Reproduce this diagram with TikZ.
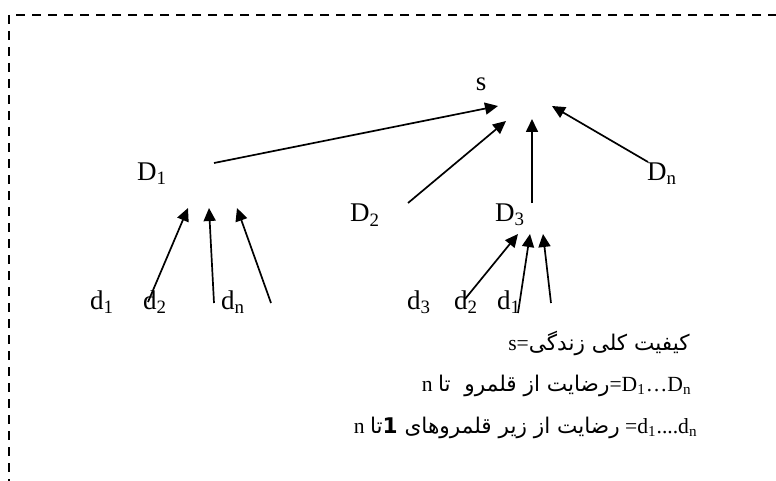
\documentclass[tikz,border=0pt]{standalone}
\usepackage{fontspec}
\setmainfont{Liberation Serif}
\newfontfamily\arabicfont[Script=Arabic]{DejaVu Sans}
\usetikzlibrary{arrows.meta}
\TeXXeTstate=1

\begin{document}
\begin{tikzpicture}[x=0.5pt,y=-0.5pt,
        lbl/.style={inner sep=0pt, font=\fontsize{13.5}{16}\selectfont},
        key/.style={inner sep=0pt, anchor=base east, font=\fontsize{10.8}{13}\selectfont},
        arr/.style={line width=0.85pt, -{Triangle[length=6.5pt,width=6pt]}},
        frame/.style={line width=1pt, dash pattern=on 4.5pt off 3.5pt}]
        \useasboundingbox (0,0) rectangle (776,481);
        \clip (0,0) rectangle (776,481);

        % dashed frame
        \draw[frame] (9,15) rectangle (800,520);

        % top level
        \node[lbl] (s) at (481,84) {s};
        \node[lbl] (D1) at (152,174) {D\textsubscript{1}};
        \node[lbl] (D2) at (365,215) {D\textsubscript{2}};
        \node[lbl] (D3) at (510,215) {D\textsubscript{3}};
        \node[lbl] (Dn) at (662,174) {D\textsubscript{n}};

        % ends of the arrows into s
        \coordinate (s1) at (498,106);
        \coordinate (s2) at (506,121);
        \coordinate (s3) at (532,119);
        \coordinate (s4) at (552,106);
        \coordinate (D1out) at (214,163);
        \coordinate (D2out) at (408,203);
        \coordinate (D3out) at (532,203);
        \coordinate (Dnout) at (648,162);
        \draw[arr] (D1out) -- (s1);
        \draw[arr] (D2out) -- (s2);
        \draw[arr] (D3out) -- (s3);
        \draw[arr] (Dnout) -- (s4);

        % sub domains of D1
        \node[lbl] (d1) at (102,302) {d\textsubscript{1}};
        \node[lbl] (d2) at (155,302) {d\textsubscript{2}};
        \node[lbl] (dn) at (233,302) {d\textsubscript{n}};
        \coordinate (D1a) at (188,208);
        \coordinate (D1b) at (209,208);
        \coordinate (D1c) at (237,208);
        \coordinate (d1a) at (148,302);
        \coordinate (d1b) at (214,303);
        \coordinate (d1c) at (271,303);
        \draw[arr] (d1a) -- (D1a);
        \draw[arr] (d1b) -- (D1b);
        \draw[arr] (d1c) -- (D1c);

        % sub domains of D3
        \node[lbl] (d3) at (419,302) {d\textsubscript{3}};
        \node[lbl] (d2b) at (466,302) {d\textsubscript{2}};
        \node[lbl] (d1b) at (509,302) {d\textsubscript{1}};
        \coordinate (D3a) at (518,234);
        \coordinate (D3b) at (530,234);
        \coordinate (D3c) at (543,234);
        \coordinate (d3a) at (465,299);
        \coordinate (d3b) at (518,313);
        \coordinate (d3c) at (551,303);
        \draw[arr] (d3a) -- (D3a);
        \draw[arr] (d3b) -- (D3b);
        \draw[arr] (d3c) -- (D3c);

        % key
        \node[key] (k1) at (690,350) {s={\arabicfont\beginR کیفیت کلی زندگی\endR}};
        \node[key] (k2) at (692,391) {\beginR\beginL D\textsubscript{1}…D\textsubscript{n}\endL={\arabicfont رضایت از قلمرو\ \ تا} n\endR};
        \node[key] (k3) at (698,433) {\beginR\beginL d\textsubscript{1}....d\textsubscript{n}\endL= {\arabicfont رضایت از زیر قلمروهای {\bfseries 1}\kern0ptتا} n\endR};
\end{tikzpicture}
\end{document}
